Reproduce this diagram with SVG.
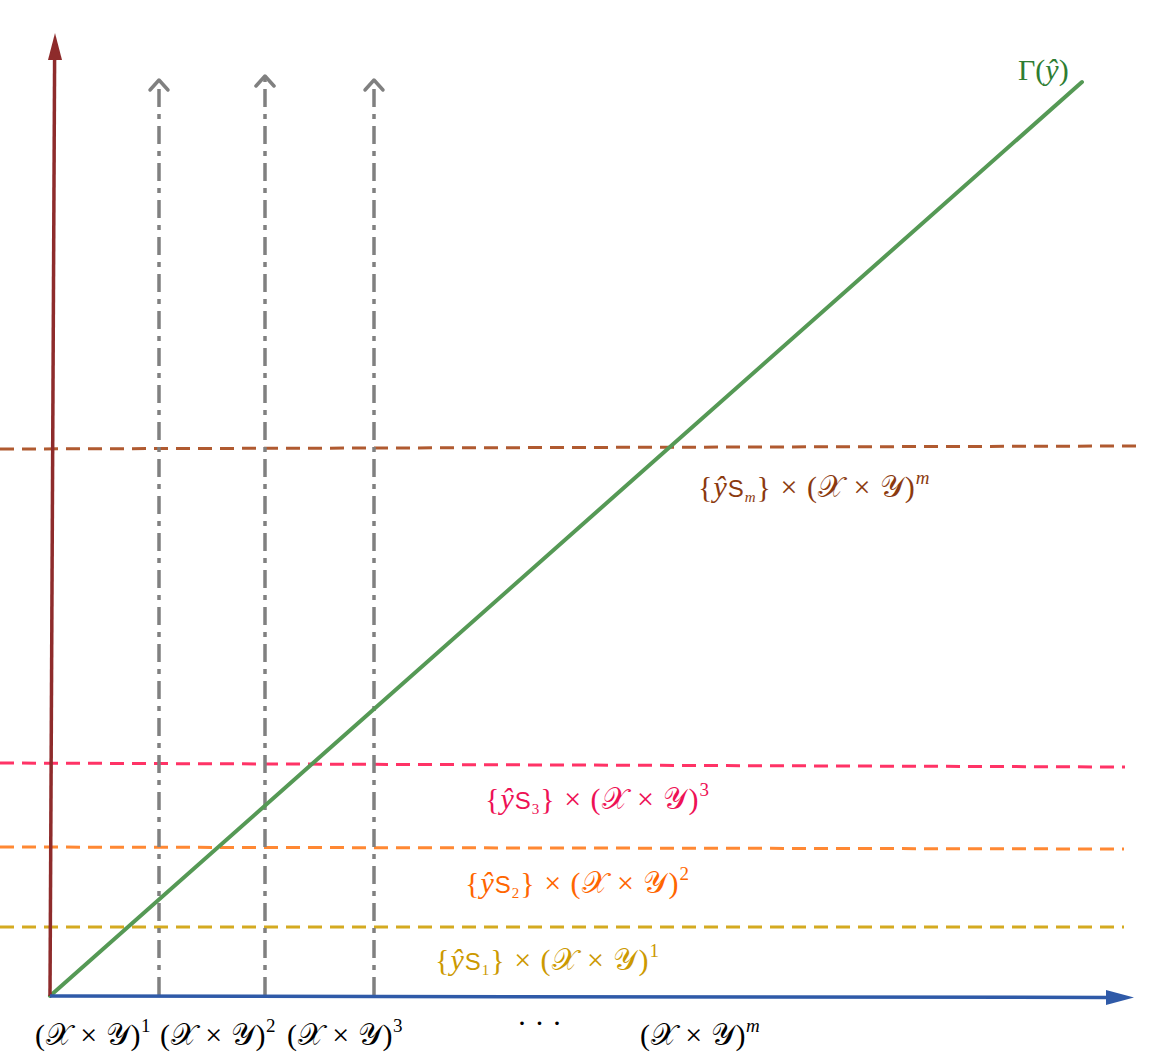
<svg xmlns="http://www.w3.org/2000/svg" width="1150" height="1055" viewBox="0 0 1150 1055">
<style>
.m{font-family:"Liberation Serif","DejaVu Serif",serif;font-size:30px}
.c{letter-spacing:1px}
.b{letter-spacing:0.6px}
.i{font-style:italic}
.s{font-family:"Liberation Sans","DejaVu Sans",sans-serif;font-size:24px}
.sub{font-size:15px}
.sup{font-size:19px}
.dash{fill:none;stroke-width:3;stroke-dasharray:14,8}
.dd{fill:none;stroke:#808080;stroke-width:3.5;stroke-dasharray:18,7,5,7}
.head{fill:none;stroke:#808080;stroke-width:3.5;stroke-linecap:round;stroke-linejoin:round}
</style>
<g id="connectors">
<line x1="0" y1="449" x2="1137" y2="446" class="dash" stroke="#b05a30"/>
<line x1="0" y1="763" x2="1125" y2="767" class="dash" stroke="#ff3366"/>
<line x1="0" y1="847" x2="1124" y2="849" class="dash" stroke="#ff8833"/>
<line x1="0" y1="927" x2="1124" y2="927" class="dash" stroke="#d4aa20"/>
<g id="v1"><line x1="159" y1="995" x2="159" y2="82" class="dd"/><path d="M150,90 L159,80 L168,90" class="head"/></g>
<g id="v2"><line x1="265" y1="995" x2="265" y2="78" class="dd"/><path d="M256,86 L265,76 L274,86" class="head"/></g>
<g id="v3"><line x1="374" y1="995" x2="374" y2="82" class="dd"/><path d="M365,90 L374,80 L383,90" class="head"/></g>
<line id="gamma" x1="50" y1="996" x2="1082" y2="82" stroke="#559955" stroke-width="4" stroke-linecap="round"/>
<g id="yaxis"><line x1="50" y1="996" x2="54.6" y2="60" stroke="#8e2b2b" stroke-width="3.5"/><path d="M48,60 L55,33 L62,60 z" fill="#8e2b2b"/></g>
<g id="xaxis"><line x1="50" y1="996" x2="1108" y2="997.5" stroke="#2f5aa8" stroke-width="3.5"/><path d="M1106,990 L1134,997.5 L1106,1005 z" fill="#2f5aa8"/></g>
</g>
<g id="label-gamma"><text x="1018" y="80" class="m" fill="#2e7d32">Γ(<tspan class="i">ŷ</tspan>)</text></g>
<g id="label-m"><text x="698" y="497" class="m c" fill="#8b3a0f">{<tspan class="i">ŷ</tspan><tspan class="s">S</tspan><tspan class="sub i" dy="5">m</tspan><tspan dy="-5">} × (𝒳 × 𝒴)</tspan><tspan class="sup i" dy="-13">m</tspan></text></g>
<g id="label-3"><text x="485" y="809" class="m c" fill="#ee1155">{<tspan class="i">ŷ</tspan><tspan class="s">S</tspan><tspan class="sub" dy="5">3</tspan><tspan dy="-5">} × (𝒳 × 𝒴)</tspan><tspan class="sup" dy="-13">3</tspan></text></g>
<g id="label-2"><text x="465" y="893" class="m c" fill="#ff6600">{<tspan class="i">ŷ</tspan><tspan class="s">S</tspan><tspan class="sub" dy="5">2</tspan><tspan dy="-5">} × (𝒳 × 𝒴)</tspan><tspan class="sup" dy="-13">2</tspan></text></g>
<g id="label-1"><text x="435" y="970" class="m c" fill="#cc9900">{<tspan class="i">ŷ</tspan><tspan class="s">S</tspan><tspan class="sub" dy="5">1</tspan><tspan dy="-5">} × (𝒳 × 𝒴)</tspan><tspan class="sup" dy="-13">1</tspan></text></g>
<g id="tick-labels" fill="#000">
<text x="35" y="1045" class="m b">(𝒳 × 𝒴)<tspan class="sup" dy="-13">1</tspan></text>
<text x="160" y="1045" class="m b">(𝒳 × 𝒴)<tspan class="sup" dy="-13">2</tspan></text>
<text x="287" y="1045" class="m b">(𝒳 × 𝒴)<tspan class="sup" dy="-13">3</tspan></text>
<text x="517" y="1033" class="m">· · ·</text>
<text x="640" y="1045" class="m b">(𝒳 × 𝒴)<tspan class="sup i" dy="-13">m</tspan></text>
</g>
</svg>
